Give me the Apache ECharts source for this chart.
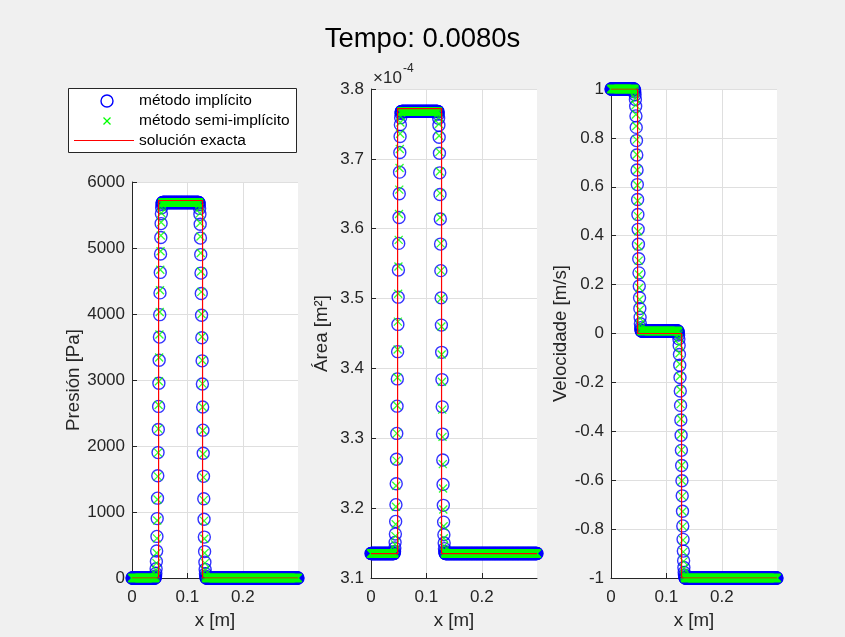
<!DOCTYPE html>
<html>
<head>
<meta charset="utf-8">
<script src="https://cdn.jsdelivr.net/npm/echarts@6/dist/echarts.min.js"></script>
<style>
  html, body { margin: 0; padding: 0; background: #f0f0f0; }
  #chart { width: 845px; height: 637px; }
</style>
</head>
<body>
<div id="chart"></div>
<script>
// ---- labels ----
const titleText = 'Tempo: 0.0080s';
const seriesNames = ['método implícito', 'método semi-implícito', 'solución exacta'];
const xAxisName = 'x [m]';
const yAxisNames = ['Presión [Pa]', 'Área [m²]', 'Velocidade [m/s]'];

// ---- axis ranges: [min, max, interval] ----
const xRange = [0, 0.2995, 0.1];
const pressureRange = [0, 6000, 1000];
const areaRange = [3.1, 3.8, 0.1];      // in 1e-4 m²
const velocityRange = [-1, 1, 0.2];

// ---- solver mesh ----
const meshStep = 0.0005;   // m
const meshSize = 600;      // nodes at x = 0 … 0.2995 m

// Each profile: constant run, front samples, constant run, front samples, constant run.
// Pressure [Pa]
const pressureLeftImplicit = [10, 30, 70, 140, 250, 410, 630, 900, 1210, 1550, 1900, 2250, 2600, 2950, 3300,
  3650, 3990, 4320, 4630, 4910, 5160, 5370, 5520, 5610, 5660, 5680, 5690];
const pressureRightImplicit = [5690, 5680, 5655, 5600, 5510, 5360, 5150, 4900, 4620, 4310, 3980, 3640, 3290, 2940,
  2590, 2240, 1890, 1540, 1200, 890, 620, 400, 240, 130, 65, 28, 8];
const pressureLeftSemi = [5, 20, 55, 120, 225, 380, 600, 870, 1190, 1540, 1900, 2260, 2620, 2980, 3340,
  3690, 4030, 4360, 4670, 4950, 5190, 5390, 5530, 5615, 5660, 5680, 5690];
const pressureRightSemi = [5690, 5680, 5660, 5610, 5525, 5380, 5175, 4925, 4645, 4335, 4000, 3655, 3300, 2945,
  2590, 2235, 1880, 1525, 1180, 865, 595, 380, 225, 118, 55, 22, 5];
const pressureLevels = [0, 5690, 0];

// Area [1e-4 m²]
const areaLeftImplicit = [3.136, 3.138, 3.143, 3.151, 3.163, 3.181, 3.205, 3.235, 3.270, 3.307, 3.346, 3.385,
  3.424, 3.463, 3.502, 3.541, 3.579, 3.616, 3.650, 3.681, 3.709, 3.732, 3.749, 3.759, 3.765, 3.767, 3.768];
const areaRightImplicit = [3.768, 3.767, 3.764, 3.758, 3.748, 3.731, 3.708, 3.680, 3.649, 3.614, 3.578, 3.540,
  3.501, 3.462, 3.423, 3.384, 3.345, 3.306, 3.269, 3.234, 3.204, 3.180, 3.162, 3.150, 3.142, 3.138, 3.136];
const areaLeftSemi = [3.1356, 3.137, 3.141, 3.148, 3.160, 3.177, 3.202, 3.232, 3.268, 3.307, 3.347, 3.387,
  3.427, 3.467, 3.507, 3.546, 3.584, 3.621, 3.656, 3.687, 3.714, 3.736, 3.752, 3.761, 3.766, 3.767, 3.768];
const areaRightSemi = [3.768, 3.767, 3.765, 3.759, 3.750, 3.733, 3.710, 3.682, 3.651, 3.616, 3.579, 3.540,
  3.500, 3.460, 3.420, 3.381, 3.341, 3.302, 3.263, 3.228, 3.198, 3.174, 3.157, 3.146, 3.140, 3.137, 3.1356];
const areaLevels = [3.135, 3.768, 3.135];

// Velocity [m/s]
const velocityLeftImplicit = [0.998, 0.995, 0.988, 0.976, 0.957, 0.929, 0.890, 0.843, 0.789, 0.730, 0.669, 0.609,
  0.548, 0.487, 0.426, 0.365, 0.306, 0.248, 0.194, 0.146, 0.102, 0.066, 0.040, 0.024, 0.015, 0.012, 0.010];
const velocityRightImplicit = [0.010, 0.008, 0.004, -0.006, -0.022, -0.049, -0.086, -0.130, -0.180, -0.235,
  -0.294, -0.354, -0.416, -0.478, -0.540, -0.602, -0.664, -0.727, -0.787, -0.842, -0.890, -0.929, -0.957,
  -0.977, -0.988, -0.995, -0.999];
const velocityLeftSemi = [0.999, 0.997, 0.990, 0.979, 0.961, 0.934, 0.896, 0.849, 0.793, 0.732, 0.669, 0.606,
  0.543, 0.480, 0.418, 0.357, 0.298, 0.241, 0.187, 0.139, 0.097, 0.062, 0.038, 0.023, 0.015, 0.012, 0.010];
const velocityRightSemi = [0.010, 0.008, 0.005, -0.004, -0.019, -0.045, -0.081, -0.125, -0.175, -0.230,
  -0.289, -0.350, -0.413, -0.476, -0.539, -0.602, -0.665, -0.728, -0.789, -0.845, -0.893, -0.932, -0.960,
  -0.979, -0.990, -0.996, -1.000];
const velocityLevels = [1, 0.01, -1];

// node counts of the constant stretches: left state, central state, right state
const runLengths = [84, 130, 332];

// Exact solution: wave fronts [m] and state levels
const exactFronts = [0.048, 0.1273];
const exactPressure = [0, 5720, 0];
const exactArea = [3.135, 3.772, 3.135];
const exactVelocity = [1, 0, -1];

// ---- assembling ----
function profile(levels, left, right) {
  const out = [];
  const run = (v, n) => { for (let k = 0; k < n; k++) out.push(v); };
  run(levels[0], runLengths[0]);
  out.push(...left);
  run(levels[1], runLengths[1]);
  out.push(...right);
  run(levels[2], runLengths[2]);
  return out;
}
const meshX = [];
for (let i = 0; i < meshSize; i++) meshX.push(+(i * meshStep).toFixed(4));
const toPoints = vals => vals.map((v, i) => [meshX[i], v]);
const exactPoints = lv => [
  [xRange[0], lv[0]], [exactFronts[0], lv[0]], [exactFronts[0], lv[1]],
  [exactFronts[1], lv[1]], [exactFronts[1], lv[2]], [xRange[1], lv[2]]
];

const panels = [
  { range: pressureRange, imp: profile(pressureLevels, pressureLeftImplicit, pressureRightImplicit),
    semi: profile(pressureLevels, pressureLeftSemi, pressureRightSemi), exact: exactPressure,
    fmt: v => String(Math.round(v)) },
  { range: areaRange, imp: profile(areaLevels, areaLeftImplicit, areaRightImplicit),
    semi: profile(areaLevels, areaLeftSemi, areaRightSemi), exact: exactArea,
    fmt: v => v.toFixed(1) },
  { range: velocityRange, imp: profile(velocityLevels, velocityLeftImplicit, velocityRightImplicit),
    semi: profile(velocityLevels, velocityLeftSemi, velocityRightSemi), exact: exactVelocity,
    fmt: v => String(+v.toFixed(1)) }
];

// ---- styling ----
const FONT = '"Liberation Sans", Arial, Helvetica, sans-serif';
const AXIS = '#262626';
const GRIDLINE = '#dfdfdf';
const BLUE = '#0000ff', GREEN = '#00ff00', RED = '#ff0000';
const CROSS = 'path://M0 0L10 10M10 0L0 10';

const gridBoxes = [
  { left: 132, top: 182, width: 166, height: 396 },
  { left: 371, top: 89, width: 166, height: 489 },
  { left: 611, top: 89, width: 166, height: 489 }
];
const yNameGaps = [46, 40, 35];

const option = {
  backgroundColor: '#f0f0f0',
  animation: false,
  textStyle: { fontFamily: FONT },
  title: {
    text: titleText, left: 'center', top: 20,
    textStyle: { fontSize: 27.5, fontWeight: 'normal', color: '#000', fontFamily: FONT }
  },
  grid: gridBoxes.map(g => Object.assign({ show: true, backgroundColor: '#fff', borderWidth: 0 }, g)),
  xAxis: gridBoxes.map((g, k) => ({
    type: 'value', gridIndex: k,
    min: xRange[0], max: xRange[1], interval: xRange[2],
    name: xAxisName, nameLocation: 'middle', nameGap: 33,
    nameTextStyle: { fontSize: 18.7, color: AXIS, fontFamily: FONT },
    axisLine: { show: true, onZero: false, lineStyle: { color: AXIS, width: 1 } },
    axisTick: { show: true, inside: true, length: 5, lineStyle: { color: AXIS } },
    axisLabel: { fontSize: 17, color: AXIS, margin: 11, showMaxLabel: false, fontFamily: FONT,
      formatter: v => String(+v.toFixed(1)) },
    splitLine: { show: true, showMinLine: false, showMaxLine: false, lineStyle: { color: GRIDLINE, width: 1 } }
  })),
  yAxis: panels.map((p, k) => ({
    type: 'value', gridIndex: k,
    min: p.range[0], max: p.range[1], interval: p.range[2],
    name: yAxisNames[k], nameLocation: 'middle', nameGap: yNameGaps[k], nameRotate: 90,
    nameTextStyle: { fontSize: 18.7, color: AXIS, fontFamily: FONT },
    axisLine: { show: true, onZero: false, lineStyle: { color: AXIS, width: 1 } },
    axisTick: { show: true, inside: true, length: 5, lineStyle: { color: AXIS } },
    axisLabel: { fontSize: 17, color: AXIS, margin: 7, fontFamily: FONT, formatter: p.fmt },
    splitLine: { show: true, showMinLine: false, lineStyle: { color: GRIDLINE, width: 1 } }
  })),
  series: panels.flatMap((p, k) => [
    {
      name: seriesNames[0], type: 'scatter', xAxisIndex: k, yAxisIndex: k,
      data: toPoints(p.imp), symbol: 'circle', symbolSize: 12, clip: false, silent: true, z: 2,
      itemStyle: { color: 'rgba(0,0,0,0)', borderColor: BLUE, borderWidth: 1.4 }
    },
    {
      name: seriesNames[1], type: 'scatter', xAxisIndex: k, yAxisIndex: k,
      data: toPoints(p.semi), symbol: CROSS, symbolSize: 8, clip: false, silent: true, z: 3,
      itemStyle: { color: 'rgba(0,0,0,0)', borderColor: GREEN, borderWidth: 1.3 }
    },
    {
      name: seriesNames[2], type: 'line', xAxisIndex: k, yAxisIndex: k,
      data: exactPoints(p.exact), symbol: 'none', silent: true, z: 4,
      lineStyle: { color: RED, width: 1.2 }
    }
  ]),
  graphic: [
    // legend box
    { type: 'rect', shape: { x: 68.5, y: 88.5, width: 228, height: 64 },
      style: { fill: '#fff', stroke: AXIS, lineWidth: 1 }, z: 10 },
    { type: 'circle', shape: { cx: 107, cy: 101, r: 6 },
      style: { fill: 'none', stroke: BLUE, lineWidth: 1.4 }, z: 11 },
    { type: 'line', shape: { x1: 103.5, y1: 117.5, x2: 110.5, y2: 124.5 },
      style: { stroke: GREEN, lineWidth: 1.3 }, z: 11 },
    { type: 'line', shape: { x1: 110.5, y1: 117.5, x2: 103.5, y2: 124.5 },
      style: { stroke: GREEN, lineWidth: 1.3 }, z: 11 },
    { type: 'line', shape: { x1: 74, y1: 140.5, x2: 134, y2: 140.5 },
      style: { stroke: RED, lineWidth: 1.2 }, z: 11 },
    ...seriesNames.map((s, i) => ({
      type: 'text', x: 139, y: [101, 121, 140.5][i], z: 11,
      style: { text: s, fontSize: 15.5, fontFamily: FONT, fill: '#000', verticalAlign: 'middle' }
    })),
    // exponent of the area axis
    { type: 'text', x: 373, y: 78, z: 11,
      style: { text: '×10', fontSize: 17, fontFamily: FONT, fill: AXIS, verticalAlign: 'middle' } },
    { type: 'text', x: 403, y: 69, z: 11,
      style: { text: '-4', fontSize: 12, fontFamily: FONT, fill: AXIS, verticalAlign: 'middle' } }
  ]
};

const chart = echarts.init(document.getElementById('chart'), null, { renderer: 'canvas' });
chart.setOption(option);
</script>
</body>
</html>
